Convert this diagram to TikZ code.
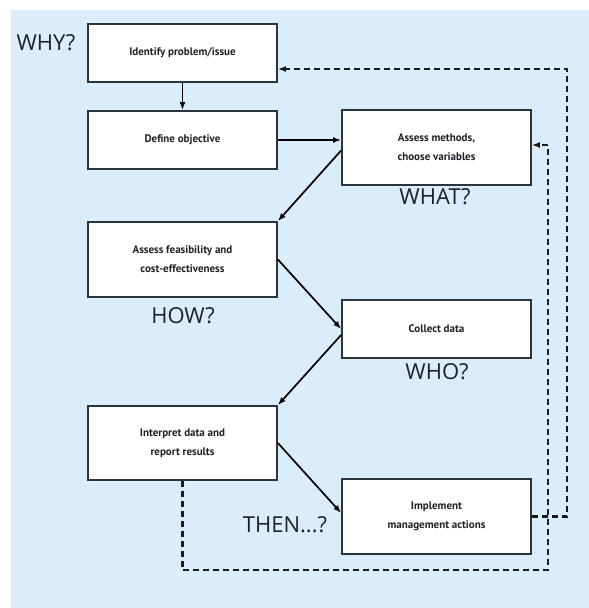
\documentclass[tikz,border=0pt]{standalone}
\usepackage{fontspec}
\setmainfont{PT Sans}
\newfontfamily\handfont{Open Sans}
\usetikzlibrary{arrows.meta,calc}
\definecolor{bgblue}{HTML}{DAEDFB}
\definecolor{boxline}{HTML}{2E3338}
\definecolor{inkc}{HTML}{1E2228}
\tikzset{
  stepbox/.style={draw=boxline, line width=1.8pt, fill=white, minimum width=189pt, align=center, font=\bfseries\fontsize{11}{19}\selectfont, text=inkc, inner sep=0pt},
  arr/.style={draw=black, line width=1.7pt, -{Latex[length=8pt,width=6pt]}},
  dsh/.style={draw=black!90, line width=2.2pt, dash pattern=on 6pt off 4pt, -{Latex[length=8pt,width=6pt]}},
  hand/.style={font=\handfont\fontsize{22}{22}\selectfont, text=inkc, inner sep=0pt}
}
\begin{document}
\begin{tikzpicture}[x=1pt,y=-1pt]
\useasboundingbox (0,0) rectangle (589,608);
\fill[white] (0,0) rectangle (589,608);
\fill[bgblue] (11,10) rectangle (589,608);
\node[stepbox, minimum height=58pt] (b1) at (182.5,53) {Identify problem/issue};
\node[stepbox, minimum height=58pt] (b2) at (182.5,140) {Define objective};
\node[stepbox, minimum height=75pt] (b3) at (436.5,147.5) {Assess methods,\\choose variables};
\node[stepbox, minimum height=75pt] (b4) at (182.5,259.5) {Assess feasibility and\\cost-effectiveness};
\node[stepbox, minimum height=58pt] (b5) at (436.5,329) {Collect data};
\node[stepbox, minimum height=74pt] (b6) at (182.5,443) {Interpret data and\\report results};
\node[stepbox, minimum height=75pt] (b7) at (436.5,516.5) {Implement\\management actions};
\node[hand] (why) at (46,43) {WHY?};
\node[hand] (what) at (435,197) {WHAT?};
\node[hand] (how) at (183,316) {HOW?};
\node[hand] (who) at (437,372) {WHO?};
\node[hand] (then) at (285,525) {THEN...?};
\draw[arr] (b1) -- (b2);
\draw[arr] (b2.east) -- (b2.east -| b3.west);
\draw[arr] ([yshift=-3pt]b3.west) -- (b4.north east);
\draw[arr] (b4.east) -- (b5.west);
\draw[arr] ([yshift=-6pt]b5.west) -- (b6.north east);
\draw[arr] (b6.east) -- ([yshift=3.5pt]b7.west);
\coordinate (r1) at (567,69);
\coordinate (c2) at (548,570);
\draw[dsh] (b7.east) -| (r1) -- ([yshift=-16pt]b1.east);
\draw[dsh] (b6.south) |- (c2) |- ([yshift=2.5pt]b3.east);
\end{tikzpicture}
\end{document}
